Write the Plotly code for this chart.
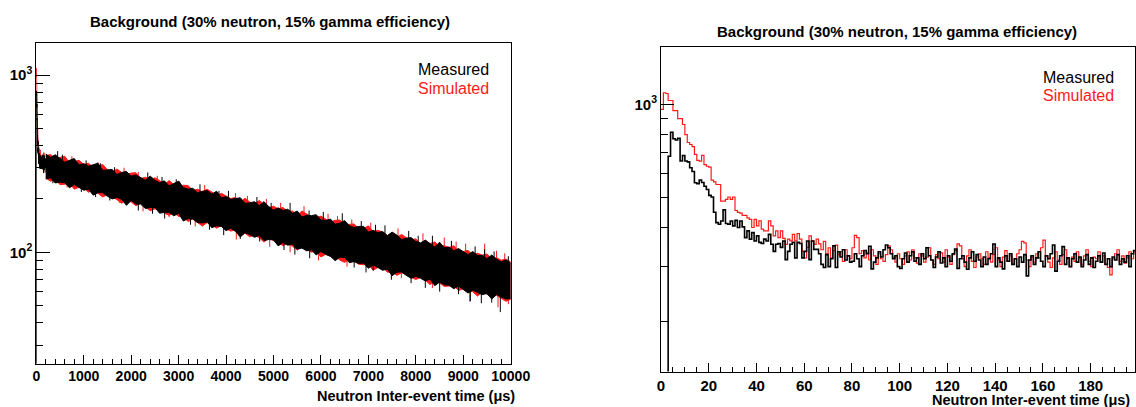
import plotly.graph_objects as go

W, H = 1136, 407

# ---------------- data ----------------
# Right panel: 1 us bins, 0..198 us (counts per bin)
measured_fine = [
    0, 0, 0, 681, 814, 775, 768, 778, 657, 685, 657, 653, 625, 608, 559, 555, 570, 560, 545, 532,
    509, 503, 449, 416, 411, 421, 457, 413, 411, 421, 406, 423, 401, 421, 403, 372, 391, 368, 386, 363,
    377, 359, 356, 368, 363, 381, 354, 336, 354, 356, 346, 363, 316, 336, 354, 359, 320, 359, 356, 320,
    336, 363, 316, 363, 341, 341, 330, 305, 298, 328, 300, 318, 350, 298, 335, 322, 340, 315, 325, 310,
    312, 330, 318, 300, 325, 338, 330, 349, 295, 310, 320, 335, 322, 340, 352, 345, 330, 318, 325, 300,
    296, 318, 332, 310, 325, 335, 312, 320, 305, 330, 318, 345, 325, 315, 298, 322, 335, 308, 320, 300,
    325, 312, 330, 342, 296, 318, 325, 310, 294, 320, 335, 312, 328, 315, 300, 322, 305, 318, 330, 355,
    300, 320, 310, 295, 325, 312, 330, 305, 318, 300, 322, 310, 328, 280, 315, 325, 305, 320, 335, 312,
    300, 325, 318, 330, 352, 290, 312, 325, 348, 305, 320, 300, 318, 330, 310, 322, 300, 315, 328, 305,
    320, 298, 312, 325, 310, 332, 305, 318, 300, 322, 315, 328, 305, 318, 310, 325, 300, 330, 338,
]
simulated_fine = [
    964, 1091, 1085, 1030, 1030, 956, 956, 900, 900, 862, 800, 754, 743, 731, 690, 660, 657, 685, 640, 632,
    628, 570, 563, 552, 552, 488, 488, 494, 503, 494, 503, 455, 449, 446, 439, 439, 431, 426, 401, 426,
    406, 421, 396, 391, 391, 421, 406, 377, 391, 372, 391, 370, 354, 368, 363, 381, 363, 383, 368, 336,
    320, 346, 377, 363, 354, 368, 355, 340, 362, 330, 345, 320, 338, 352, 328, 335, 312, 340, 325, 318,
    345, 378, 372, 330, 338, 320, 332, 315, 340, 325, 305, 330, 318, 312, 328, 350, 340, 322, 310, 330,
    318, 305, 325, 335, 315, 340, 320, 308, 330, 325, 310, 322, 345, 315, 305, 328, 318, 332, 310, 340,
    322, 305, 328, 338, 355, 350, 318, 300, 325, 340, 312, 298, 322, 330, 318, 305, 335, 320, 310, 328,
    345, 315, 300, 322, 338, 312, 325, 305, 318, 330, 340, 362, 358, 315, 300, 322, 310, 330, 320, 345,
    365, 325, 310, 298, 320, 335, 315, 305, 328, 340, 318, 300, 322, 312, 335, 318, 305, 325, 340, 312,
    300, 322, 318, 335, 310, 325, 305, 298, 282, 318, 330, 340, 312, 325, 308, 320, 335, 318, 335,
]
fine_edges = list(range(0, len(measured_fine) + 1))  # bin edges in us

# Left panel: envelope of the densely binned spectrum, 200 us .. 10000 us (every 100 us)
band_t = list(range(200, 10001, 100))
meas_hi = [
    358, 343, 355, 336, 322, 330, 338, 311, 316, 306, 313, 318, 290, 292, 293, 275, 282, 286, 269, 273,
    264, 255, 269, 255, 247, 253, 237, 244, 252, 232, 227, 230, 216, 221, 223, 213, 221, 203, 206, 199,
    202, 203, 189, 190, 193, 183, 193, 181, 173, 178, 172, 175, 166, 171, 158, 162, 161, 163, 152, 151,
    154, 144, 146, 151, 141, 138, 140, 140, 130, 133, 129, 131, 124, 130, 125, 118, 120, 121, 115, 113,
    117, 112, 107, 114, 106, 107, 102, 105, 101, 97, 101, 96, 96, 92, 96.5, 91.5, 88.4, 90.6, 86.8,
]
meas_lo = [
    259, 263, 246, 249, 247, 231, 241, 232, 224, 227, 210, 217, 217, 207, 200, 204, 199, 184, 196, 187,
    187, 176.5, 179, 179, 166, 168, 168, 160.5, 166, 150, 155, 154, 147, 146.5, 148.5, 137.6, 141, 140, 132.5, 137,
    131, 122, 129, 126, 121.5, 124.5, 116.5, 118, 117.5, 108.7, 113.7, 109.7, 111.2, 104.1, 105.6, 101.9, 103.3, 96.6, 101, 97.4,
    94.9, 89.7, 93.9, 93.4, 87.4, 88.7, 86.5, 86.9, 81.3, 85, 82.1, 79.2, 80.4, 73.7, 77.2, 77.5, 74.1, 71.4, 73.2, 71.4,
    68.9, 70.6, 64.8, 67.9, 65.6, 65.2, 62.3, 64.6, 61.7, 58.9, 61.1, 59.6, 57.7, 58.6, 54.5, 57.7, 55.8, 54.5, 54.8,
]
sim_hi = [
    351, 356, 338, 343, 348, 320, 325, 330, 313, 318, 301, 306, 313, 292, 282, 295, 282, 275, 280, 281,
    261, 265, 256, 263, 254, 241, 254, 241, 235, 239, 238, 223, 227, 219, 227, 219, 208, 215, 208, 201,
    204, 192, 202, 192, 187, 196, 186, 178, 182, 176, 179, 170, 171, 161.5, 171, 165, 158, 157, 160, 154,
    148, 151.5, 152, 143, 144, 144.5, 135.5, 136, 141, 131, 133, 130, 124.5, 129, 122, 126, 121, 118, 119, 111.5,
    117, 112, 114.5, 107.5, 109, 106.5, 109, 101.5, 101, 102.6, 96.3, 98.8, 96.4, 97.9, 91.9, 93.3, 90.2, 91.5, 88.5,
]
sim_lo = [
    262, 252, 256, 241, 242, 245, 227, 232.5, 231, 218, 225, 215, 205, 211.5, 206, 198, 189, 197, 192, 183,
    189, 180, 171.6, 175.7, 174.3, 166.2, 161.6, 167, 159.3, 158.1, 149.1, 154.3, 147.4, 140.6, 147, 143.3, 136.8, 141.6, 135.2, 131.7,
    133.6, 125, 128.1, 122.2, 125.2, 120.8, 114.1, 120.6, 116.3, 112.1, 109.2, 111.9, 108, 103, 107.7, 104, 100.2, 101.6, 94.1, 97.4,
    94.9, 96.3, 90.1, 87.8, 91, 88.7, 85.6, 85.1, 85.4, 79.1, 82.1, 82.4, 77.2, 77.6, 74.1, 76.7, 74.8, 72.1, 70.3, 72.1,
    69.6, 65.7, 69.6, 67.2, 64.2, 64.5, 64.8, 60.8, 62.3, 60.2, 59.9, 56.6, 59.5, 58.1, 55.6, 57.2, 54.7, 52.9, 54.3,
]

# Isolated fluctuations reaching outside the dense band (time in us, counts)
meas_spike_t = [350, 450, 550, 949, 1050, 1250, 1350, 1550, 1650, 2150, 2350, 2450, 2650, 2706, 2950,
                3250, 3450, 3650, 3850, 3950, 4050, 4300, 4650, 4709, 4950, 5221, 5350, 5450, 5750, 5763,
                6050, 6254, 6450, 6700, 6850, 6950, 7100, 7150, 7350, 7484, 7850, 7900, 8050, 8200, 8350,
                8503, 8750, 8900, 9150, 9250, 9381, 9450, 9600, 9650, 9781, 9950]
meas_spike_v = [245, 372, 355, 219, 330, 205, 318, 196, 302, 172, 282, 165, 266, 155, 258,
                143, 242, 134, 222, 125, 222, 119, 205, 115, 190, 103, 190, 97, 172, 92.5,
                169, 92.5, 166, 82, 150, 77, 79, 143, 142, 70, 132, 67, 124, 63, 124,
                60, 116, 58, 53, 108, 51.6, 104, 52, 101, 46, 95]
sim_spike_t = [650, 750, 1300, 1750, 1850, 2150, 2250, 2550, 2800, 3022, 3350, 3550, 4200, 4216, 4450,
               4850, 4920, 5150, 5350, 5643, 5950, 6150, 6350, 6550, 6650, 7050, 7625, 7695, 8150, 8350,
               8600, 8850, 9050, 9136, 9452, 9700, 9733, 9874, 9950]
sim_spike_v = [232, 348, 322, 190, 300, 284, 170, 270, 158, 252, 140, 240, 216, 118, 208,
               200, 107.5, 190, 100, 182, 90, 165, 160, 83, 153, 147, 136.5, 71.4, 128, 63,
               121, 115, 112, 52.7, 112, 102, 49, 98.7, 51]

left_xticks = [0, 1000, 2000, 3000, 4000, 5000, 6000, 7000, 8000, 9000, 10000]
right_xticks = [0, 20, 40, 60, 80, 100, 120, 140, 160, 180]
title_text = "Background (30% neutron, 15% gamma efficiency)"
xlabel_text = "Neutron Inter-event time (\u03bcs)"

# ---------------- figure ----------------
RED = "#ff1a1a"
BLACK = "#000000"
FONT = "Liberation Sans"


def hist_xy(edges, vals, floor=1.0):
    ys = [v if v > 0 else floor for v in vals]
    return edges, ys + [ys[-1]]


def spikes_xy(ts, vs, hi, lo):
    xs, ys = [], []
    for t, v in zip(ts, vs):
        i = min(max(int(round((t - band_t[0]) / 100.0)), 0), len(band_t) - 1)
        base = (hi[i] * lo[i]) ** 0.5
        xs += [t, t, None]
        ys += [base, v, None]
    return xs, ys


fig = go.Figure()

# Left panel: simulated behind, measured on top
fig.add_trace(go.Scatter(x=band_t, y=sim_lo, mode="lines", line=dict(color=RED, width=1),
                         xaxis="x", yaxis="y", showlegend=False))
fig.add_trace(go.Scatter(x=band_t, y=sim_hi, mode="lines", line=dict(color=RED, width=1),
                         fill="tonexty", fillcolor=RED, xaxis="x", yaxis="y", showlegend=False))
sx, sy = spikes_xy(sim_spike_t, sim_spike_v, sim_hi, sim_lo)
fig.add_trace(go.Scatter(x=sx, y=sy, mode="lines", line=dict(color=RED, width=1),
                         xaxis="x", yaxis="y", showlegend=False))
fx, fy = hist_xy(fine_edges, simulated_fine)
fig.add_trace(go.Scatter(x=fx, y=fy, mode="lines", line=dict(color=RED, width=1, shape="hv"),
                         xaxis="x", yaxis="y", showlegend=False))
fig.add_trace(go.Scatter(x=band_t, y=meas_lo, mode="lines", line=dict(color=BLACK, width=1),
                         xaxis="x", yaxis="y", showlegend=False))
fig.add_trace(go.Scatter(x=band_t, y=meas_hi, mode="lines", line=dict(color=BLACK, width=1),
                         fill="tonexty", fillcolor=BLACK, xaxis="x", yaxis="y", showlegend=False))
sx, sy = spikes_xy(meas_spike_t, meas_spike_v, meas_hi, meas_lo)
fig.add_trace(go.Scatter(x=sx, y=sy, mode="lines", line=dict(color=BLACK, width=1),
                         xaxis="x", yaxis="y", showlegend=False))
fx, fy = hist_xy(fine_edges, measured_fine)
fig.add_trace(go.Scatter(x=fx, y=fy, mode="lines", line=dict(color=BLACK, width=1, shape="hv"),
                         xaxis="x", yaxis="y", showlegend=False))

# Right panel: step histograms
fx, fy = hist_xy(fine_edges, simulated_fine)
fig.add_trace(go.Scatter(x=fx, y=fy, mode="lines", line=dict(color=RED, width=1.2, shape="hv"),
                         xaxis="x2", yaxis="y2", showlegend=False))
fx, fy = hist_xy(fine_edges, measured_fine)
fig.add_trace(go.Scatter(x=fx, y=fy, mode="lines", line=dict(color=BLACK, width=1.6, shape="hv"),
                         xaxis="x2", yaxis="y2", showlegend=False))


def axis_common(size):
    return dict(showline=True, mirror=True, linecolor="black", linewidth=1, showgrid=False,
                zeroline=False, ticks="inside", tickcolor="black", tickwidth=1, automargin=False,
                tickfont=dict(family=FONT, size=size, color="black", weight="bold"))


def px_x(a, b):
    return [a / W, b / W]


def px_y(top, bottom):
    return [(H - bottom) / H, (H - top) / H]


L_left, L_right, L_top, L_bot = 36.3, 510.7, 43.0, 363.5
R_left, R_right, R_top, R_bot = 661.0, 1135.3, 47.3, 371.5

fig.update_layout(
    width=W, height=H, margin=dict(l=0, r=0, t=0, b=0, autoexpand=False),
    paper_bgcolor="white", plot_bgcolor="white", showlegend=False,
    xaxis=dict(domain=px_x(L_left, L_right), range=[0, 10000], anchor="y",
               tickvals=left_xticks, ticktext=[str(v) for v in left_xticks], ticklen=9,
               minor=dict(tickvals=[v for v in range(200, 10000, 200) if v % 1000],
                          ticks="inside", ticklen=5, tickcolor="black", tickwidth=1),
               **axis_common(14)),
    yaxis=dict(domain=px_y(L_top, L_bot), type="log", range=[1.3728, 3.1805], anchor="x",
               tickvals=[100, 1000], ticktext=["10<sup>2</sup>", "10<sup>3</sup>"], ticklen=14,
               minor=dict(tickvals=[30, 40, 50, 60, 70, 80, 90, 200, 300, 400, 500, 600, 700, 800, 900],
                          ticks="inside", ticklen=7, tickcolor="black", tickwidth=1),
               **axis_common(15)),
    xaxis2=dict(domain=px_x(R_left, R_right), range=[0, 198.7], anchor="y2",
                tickvals=right_xticks, ticktext=[str(v) for v in right_xticks], ticklen=9,
                minor=dict(tickvals=[v for v in range(5, 199, 5) if v % 20],
                           ticks="inside", ticklen=4.5, tickcolor="black", tickwidth=1),
                **axis_common(15)),
    yaxis2=dict(domain=px_y(R_top, R_bot), type="log", range=[2.1387, 3.1845], anchor="x2",
                tickvals=[1000], ticktext=["10<sup>3</sup>"], ticklen=13,
                minor=dict(tickvals=[200, 300, 400, 500, 600, 700, 800, 900],
                           ticks="inside", ticklen=6.5, tickcolor="black", tickwidth=1),
                **axis_common(15)),
)


def ann(text, x, y, size, color="black", bold=False, xanchor="center"):
    fig.add_annotation(text=text, x=x / W, y=1 - y / H, xref="paper", yref="paper",
                       showarrow=False, xanchor=xanchor, yanchor="middle",
                       font=dict(family=FONT, size=size, color=color,
                                 weight="bold" if bold else "normal"))


ann(title_text, 270, 21, 15, bold=True)
ann(title_text, 897, 32, 15, bold=True)
ann("Measured", 416, 70, 16, xanchor="left")
ann("Simulated", 416, 89, 16, color=RED, xanchor="left")
ann("Measured", 1041, 77, 16, xanchor="left")
ann("Simulated", 1041, 96, 16, color=RED, xanchor="left")
ann(xlabel_text, 517, 396, 14.5, bold=True, xanchor="right")
ann(xlabel_text, 1132, 400, 14.5, bold=True, xanchor="right")

fig.write_html("out.html")
